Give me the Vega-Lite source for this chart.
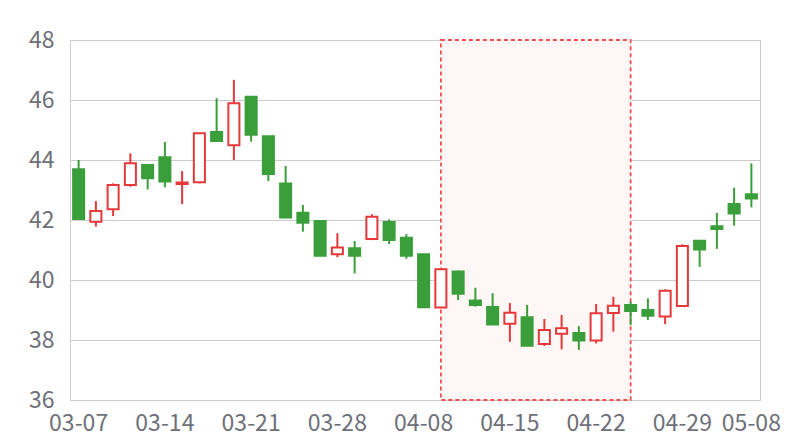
{
  "$schema": "https://vega.github.io/schema/vega-lite/v6.json",
  "width": 690,
  "height": 360,
  "padding": {"left": 70, "top": 40, "right": 40, "bottom": 40},
  "autosize": {"type": "none"},
  "background": "white",
  "config": {
    "view": {"stroke": "#cccccc", "strokeWidth": 1},
    "font": "Noto Sans CJK SC",
    "axis": {"labelFont": "Noto Sans CJK SC", "labelColor": "#6e7079", "labelFontSize": 23, "domain": false, "ticks": false, "title": null}
  },
  "datasets": {
    "ohlc": [
      {"date": "03-07", "open": 43.69, "close": 42.03, "high": 44.0, "low": 42.03},
      {"date": "03-08", "open": 41.94, "close": 42.30, "high": 42.63, "low": 41.78},
      {"date": "03-11", "open": 42.36, "close": 43.17, "high": 43.22, "low": 42.13},
      {"date": "03-12", "open": 43.17, "close": 43.89, "high": 44.22, "low": 43.11},
      {"date": "03-13", "open": 43.83, "close": 43.39, "high": 43.83, "low": 43.02},
      {"date": "03-14", "open": 44.09, "close": 43.28, "high": 44.60, "low": 43.09},
      {"date": "03-15", "open": 43.20, "close": 43.25, "high": 43.63, "low": 42.53},
      {"date": "03-18", "open": 43.26, "close": 44.89, "high": 44.89, "low": 43.22},
      {"date": "03-19", "open": 44.93, "close": 44.63, "high": 46.06, "low": 44.61},
      {"date": "03-20", "open": 44.49, "close": 45.89, "high": 46.67, "low": 44.00},
      {"date": "03-21", "open": 46.11, "close": 44.84, "high": 46.11, "low": 44.61},
      {"date": "03-22", "open": 44.79, "close": 43.53, "high": 44.79, "low": 43.30},
      {"date": "03-25", "open": 43.22, "close": 42.08, "high": 43.80, "low": 42.06},
      {"date": "03-26", "open": 42.24, "close": 41.91, "high": 42.50, "low": 41.61},
      {"date": "03-27", "open": 41.97, "close": 40.81, "high": 41.97, "low": 40.81},
      {"date": "03-28", "open": 40.86, "close": 41.08, "high": 41.56, "low": 40.76},
      {"date": "03-29", "open": 41.06, "close": 40.81, "high": 41.30, "low": 40.22},
      {"date": "04-01", "open": 41.37, "close": 42.11, "high": 42.19, "low": 41.33},
      {"date": "04-02", "open": 41.93, "close": 41.33, "high": 42.02, "low": 41.20},
      {"date": "04-03", "open": 41.41, "close": 40.81, "high": 41.53, "low": 40.71},
      {"date": "04-08", "open": 40.86, "close": 39.09, "high": 40.86, "low": 39.09},
      {"date": "04-09", "open": 39.08, "close": 40.36, "high": 40.36, "low": 39.08},
      {"date": "04-10", "open": 40.28, "close": 39.54, "high": 40.31, "low": 39.33},
      {"date": "04-11", "open": 39.32, "close": 39.17, "high": 39.74, "low": 39.11},
      {"date": "04-12", "open": 39.10, "close": 38.52, "high": 39.56, "low": 38.52},
      {"date": "04-15", "open": 38.54, "close": 38.91, "high": 39.23, "low": 37.94},
      {"date": "04-16", "open": 38.76, "close": 37.81, "high": 39.17, "low": 37.81},
      {"date": "04-17", "open": 37.87, "close": 38.33, "high": 38.70, "low": 37.80},
      {"date": "04-18", "open": 38.21, "close": 38.39, "high": 38.83, "low": 37.69},
      {"date": "04-19", "open": 38.23, "close": 37.98, "high": 38.46, "low": 37.67},
      {"date": "04-22", "open": 37.98, "close": 38.89, "high": 39.20, "low": 37.89},
      {"date": "04-23", "open": 38.90, "close": 39.14, "high": 39.44, "low": 38.28},
      {"date": "04-24", "open": 39.17, "close": 38.97, "high": 39.28, "low": 38.50},
      {"date": "04-25", "open": 39.00, "close": 38.81, "high": 39.39, "low": 38.67},
      {"date": "04-26", "open": 38.78, "close": 39.64, "high": 39.69, "low": 38.53},
      {"date": "04-29", "open": 39.13, "close": 41.13, "high": 41.19, "low": 39.13},
      {"date": "04-30", "open": 41.31, "close": 41.02, "high": 41.31, "low": 40.44},
      {"date": "05-06", "open": 41.79, "close": 41.70, "high": 42.24, "low": 41.04},
      {"date": "05-07", "open": 42.53, "close": 42.22, "high": 43.08, "low": 41.81},
      {"date": "05-08", "open": 42.86, "close": 42.72, "high": 43.89, "low": 42.42}
    ],
    "zone": [{"start": "04-09", "end": "04-24", "lo": 36, "hi": 48}]
  },
  "data": {"name": "ohlc"},
  "encoding": {
    "x": {
      "field": "date", "type": "ordinal",
      "scale": {"type": "band", "paddingInner": 0, "paddingOuter": 0,
        "domain": ["03-07", "03-08", "03-11", "03-12", "03-13", "03-14", "03-15", "03-18", "03-19", "03-20", "03-21", "03-22", "03-25", "03-26", "03-27", "03-28", "03-29", "04-01", "04-02", "04-03", "04-08", "04-09", "04-10", "04-11", "04-12", "04-15", "04-16", "04-17", "04-18", "04-19", "04-22", "04-23", "04-24", "04-25", "04-26", "04-29", "04-30", "05-06", "05-07", "05-08"]},
      "axis": {"values": ["03-07", "03-14", "03-21", "03-28", "04-08", "04-15", "04-22", "04-29", "05-08"], "labelAngle": 0, "labelPadding": 12, "grid": false}
    }
  },
  "layer": [
    {
      "data": {"name": "zone"},
      "mark": {"type": "rect", "fill": "#fff6f6", "stroke": "#ef4f4f", "strokeWidth": 1.8, "strokeDash": [4, 3]},
      "encoding": {
        "x": {"field": "start", "type": "ordinal", "bandPosition": 0.5},
        "x2": {"field": "end", "bandPosition": 0.5},
        "y": {"field": "lo", "type": "quantitative"},
        "y2": {"field": "hi"}
      }
    },
    {
      "mark": {"type": "rule", "strokeWidth": 2},
      "encoding": {
        "y": {"field": "low", "type": "quantitative", "scale": {"domain": [36, 48], "nice": false, "zero": false},
          "axis": {"values": [36, 38, 40, 42, 44, 46, 48], "grid": true, "gridColor": "#cccccc", "labelPadding": 16}},
        "y2": {"field": "high"},
        "color": {"condition": {"test": "datum.close >= datum.open", "value": "#e5393b"}, "value": "#3a9e3a"}
      }
    },
    {
      "mark": {"type": "bar", "width": {"band": 0.64}, "strokeWidth": 2},
      "encoding": {
        "y": {"field": "open", "type": "quantitative"},
        "y2": {"field": "close"},
        "fill": {"condition": {"test": "datum.close >= datum.open", "value": "#ffffff"}, "value": "#3a9e3a"},
        "stroke": {"condition": {"test": "datum.close >= datum.open", "value": "#e5393b"}, "value": "#3a9e3a"}
      }
    }
  ]
}
